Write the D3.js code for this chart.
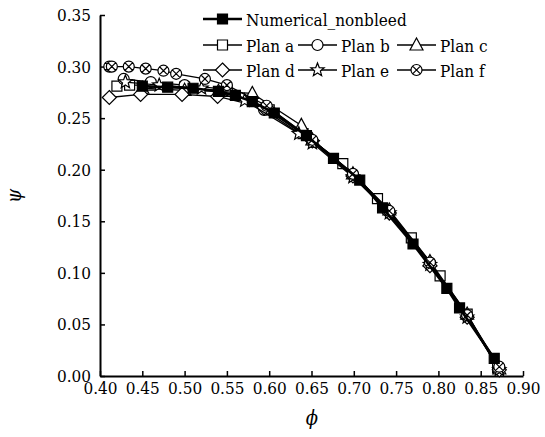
<!DOCTYPE html>
<html>
<head>
<meta charset="utf-8">
<script src="https://cdn.jsdelivr.net/npm/d3@7"></script>
<style>
  body { margin: 0; background: #fff; }
</style>
</head>
<body>
<svg width="545" height="437"></svg>
<script>
// valori (phi, psi)
const numerical = [[0.450,0.281],[0.480,0.280],[0.510,0.279],[0.540,0.276],[0.560,0.272],[0.580,0.266],[0.606,0.255],[0.644,0.233],[0.676,0.211],[0.707,0.190],[0.734,0.163],[0.770,0.128],[0.810,0.085],[0.825,0.066],[0.866,0.017]];
const planA = [[0.420,0.281],[0.435,0.282],[0.460,0.282],[0.500,0.280],[0.550,0.276],[0.600,0.258],[0.640,0.235],[0.687,0.206],[0.728,0.172],[0.768,0.134],[0.802,0.097],[0.834,0.060],[0.870,0.008]];
const planB = [[0.428,0.288],[0.460,0.285],[0.500,0.282],[0.550,0.278],[0.594,0.258],[0.651,0.227],[0.699,0.195],[0.742,0.159],[0.790,0.110],[0.834,0.058],[0.872,0.008]];
const planC = [[0.450,0.279],[0.500,0.277],[0.540,0.276],[0.580,0.274],[0.638,0.243],[0.651,0.229],[0.699,0.196],[0.742,0.161],[0.790,0.111],[0.834,0.060],[0.872,0.007]];
const planD = [[0.411,0.270],[0.448,0.273],[0.497,0.273],[0.539,0.271],[0.594,0.260],[0.651,0.228],[0.699,0.194],[0.742,0.158],[0.790,0.107],[0.834,0.057],[0.872,0.006]];
const planE = [[0.430,0.285],[0.470,0.282],[0.520,0.279],[0.571,0.267],[0.635,0.235],[0.651,0.226],[0.699,0.193],[0.742,0.158],[0.790,0.108],[0.834,0.057],[0.872,0.006]];
const planF = [[0.411,0.300],[0.414,0.300],[0.434,0.300],[0.454,0.298],[0.475,0.296],[0.490,0.293],[0.524,0.288],[0.550,0.282],[0.597,0.262],[0.651,0.229],[0.699,0.196],[0.742,0.160],[0.790,0.110],[0.834,0.059],[0.872,0.009]];

const xTicks = [0.40,0.45,0.50,0.55,0.60,0.65,0.70,0.75,0.80,0.85,0.90];
const yTicks = [0.00,0.05,0.10,0.15,0.20,0.25,0.30,0.35];

const serif = "'DejaVu Serif Condensed', 'DejaVu Serif', serif";

const series = [
  { name: "Plan a", data: planA, shape: "square", fill: "#fff", width: 1.3 },
  { name: "Plan b", data: planB, shape: "circle", fill: "#fff", width: 1.3 },
  { name: "Plan c", data: planC, shape: "triangle", fill: "#fff", width: 1.3 },
  { name: "Plan d", data: planD, shape: "diamond", fill: "#fff", width: 1.3 },
  { name: "Plan e", data: planE, shape: "star", fill: "#fff", width: 1.3 },
  { name: "Plan f", data: planF, shape: "crosscircle", fill: "#fff", width: 1.3 },
  { name: "Numerical_nonbleed", data: numerical, shape: "square", fill: "#000", width: 2.6 }
];

const svg = d3.select("svg");
const x = d3.scaleLinear().domain([0.40, 0.90]).range([100, 523]);
const y = d3.scaleLinear().domain([0, 0.35]).range([376, 15]);

// forme dei marker, centrate in 0,0
function shapePath(s) {
  if (s === "square") return "M-5,-5H5V5H-5Z";
  if (s === "circle") return "M5.5,0A5.5,5.5 0 1,1 -5.5,0A5.5,5.5 0 1,1 5.5,0Z";
  if (s === "triangle") return "M0,-7L6.5,5L-6.5,5Z";
  if (s === "diamond") return "M0,-7L7,0L0,7L-7,0Z";
  if (s === "star") {
    let p = [];
    for (let i = 0; i < 10; i++) {
      const r = i % 2 ? 3 : 7;
      const a = -Math.PI / 2 + i * Math.PI / 5;
      p.push([r * Math.cos(a), r * Math.sin(a)]);
    }
    return "M" + p.map(d => d[0].toFixed(2) + "," + d[1].toFixed(2)).join("L") + "Z";
  }
  if (s === "crosscircle") return "M5.5,0A5.5,5.5 0 1,1 -5.5,0A5.5,5.5 0 1,1 5.5,0ZM-3.9,-3.9L3.9,3.9M3.9,-3.9L-3.9,3.9";
}

function drawMarker(g, s, fill) {
  g.append("path")
    .attr("d", shapePath(s))
    .attr("fill", fill)
    .attr("stroke", "#000")
    .attr("stroke-width", 1.2);
}

// assi
const xAxis = d3.axisBottom(x).tickValues(xTicks).tickFormat(d3.format(".2f"))
  .tickSizeInner(-5).tickSizeOuter(0).tickPadding(6);
const yAxis = d3.axisLeft(y).tickValues(yTicks).tickFormat(d3.format(".2f"))
  .tickSizeInner(-5).tickSizeOuter(0).tickPadding(9);

const gx = svg.append("g").attr("transform", "translate(0,376)").call(xAxis);
const gy = svg.append("g").attr("transform", "translate(100,0)").call(yAxis);
[gx, gy].forEach(g => {
  g.attr("font-family", serif).attr("font-size", 17);
  g.selectAll("text").attr("fill", "#000");
  g.selectAll("line").attr("stroke", "#000").attr("stroke-width", 1.5);
  g.select(".domain").attr("stroke", "#000").attr("stroke-width", 2);
});

svg.append("text")
  .attr("x", 312).attr("y", 425)
  .attr("text-anchor", "middle")
  .attr("font-family", serif)
  .attr("font-size", 20).attr("font-style", "italic")
  .text("\u03d5");

svg.append("text")
  .attr("transform", "translate(21,196) rotate(-90)")
  .attr("text-anchor", "middle")
  .attr("font-family", serif)
  .attr("font-size", 20).attr("font-style", "italic")
  .text("\u03c8");

// linee e marker
const line = d3.line().x(d => x(d[0])).y(d => y(d[1]));
series.forEach(s => {
  const g = svg.append("g");
  g.append("path")
    .attr("d", line(s.data))
    .attr("fill", "none")
    .attr("stroke", "#000")
    .attr("stroke-width", s.width);
  g.selectAll("g.m").data(s.data).join("g")
    .attr("class", "m")
    .attr("transform", d => `translate(${x(d[0])},${y(d[1])})`)
    .each(function() { drawMarker(d3.select(this), s.shape, s.fill); });
});

// legenda
const legendRows = [
  [{ s: series[6], x: 203 }],
  [{ s: series[0], x: 203 }, { s: series[1], x: 298 }, { s: series[2], x: 397 }],
  [{ s: series[3], x: 203 }, { s: series[4], x: 298 }, { s: series[5], x: 397 }]
];
const rowY = [19, 45, 70];
legendRows.forEach((row, i) => {
  row.forEach(item => {
    const g = svg.append("g").attr("transform", `translate(${item.x},${rowY[i]})`);
    g.append("line").attr("x1", 0).attr("x2", 39).attr("y1", 0).attr("y2", 0)
      .attr("stroke", "#000").attr("stroke-width", item.s.width);
    const m = g.append("g").attr("transform", "translate(19.5,0)");
    drawMarker(m, item.s.shape, item.s.fill);
    g.append("text").attr("x", 43).attr("y", 6.5)
      .attr("font-family", serif)
      .attr("font-size", 17).text(item.s.name);
  });
});
</script>
</body>
</html>
